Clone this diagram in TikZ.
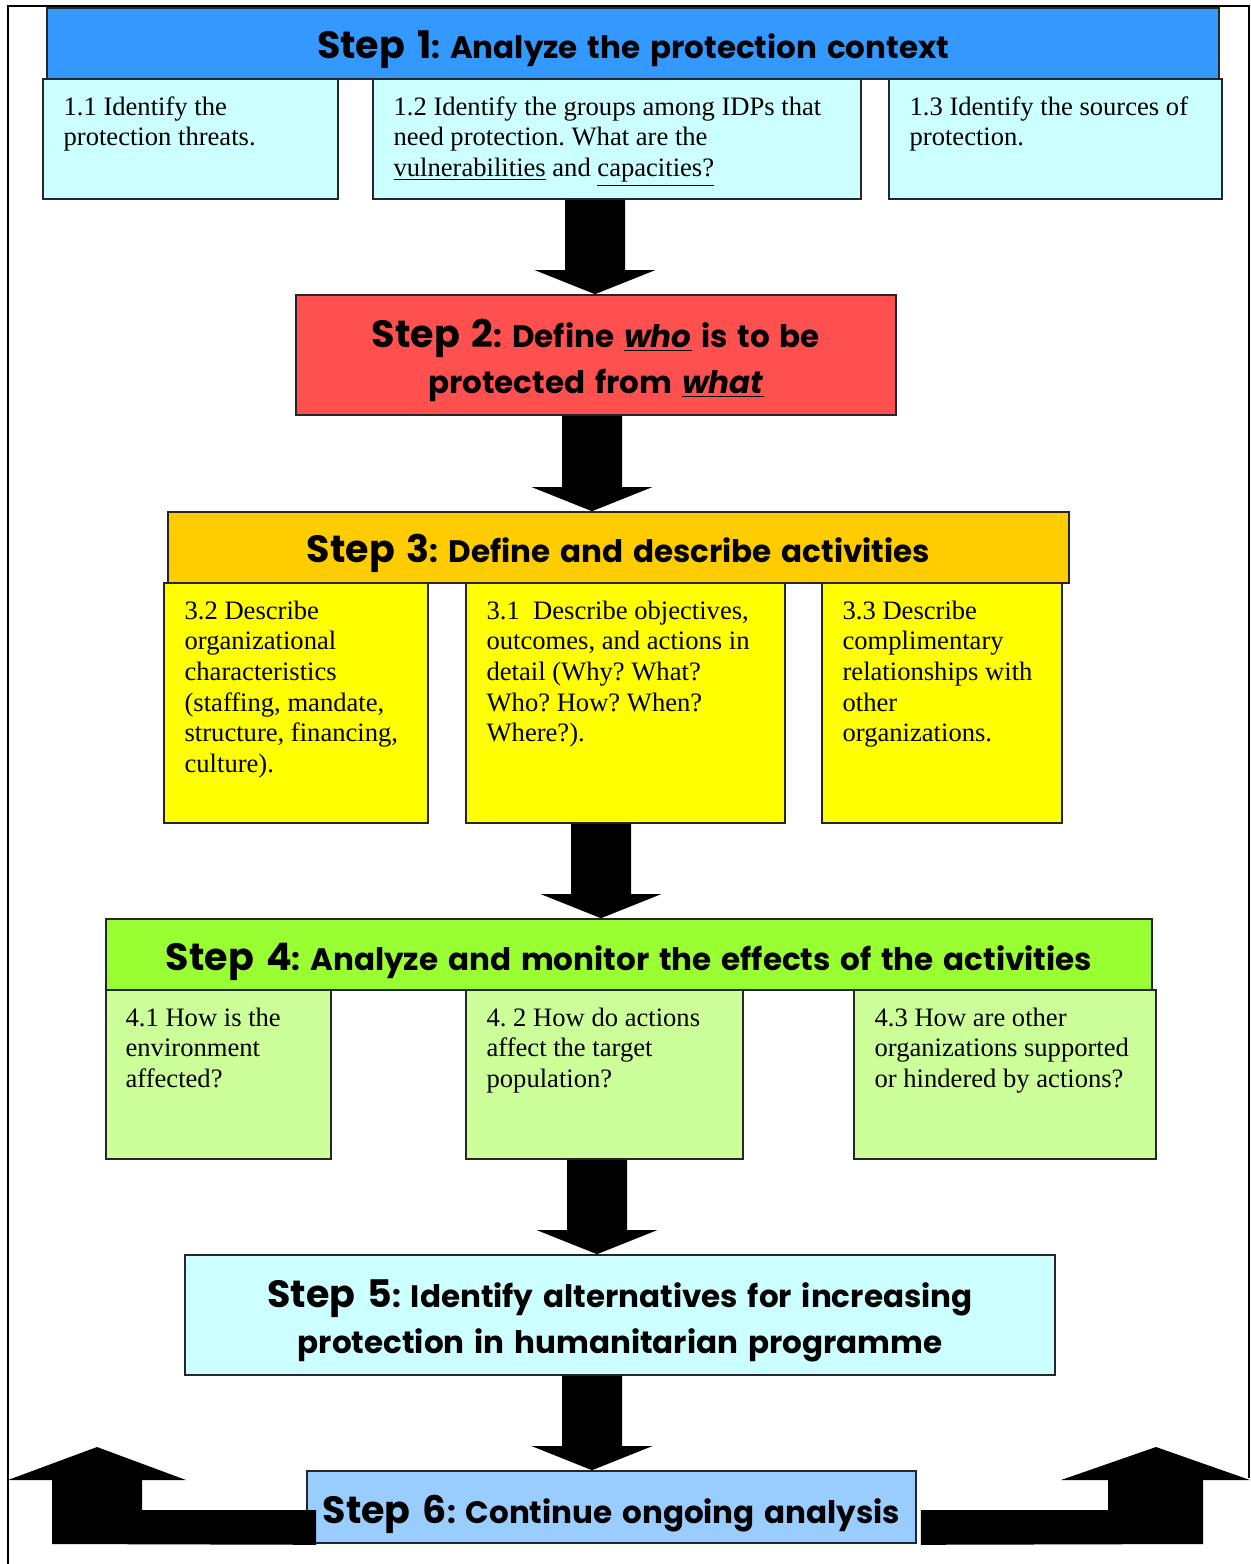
\documentclass[tikz,border=0pt]{standalone}
\usepackage{fontspec}
\setmainfont{Liberation Serif}
\newfontfamily\hdfont{Poppins}[WordSpace={1.5}]
\usetikzlibrary{calc,fit}
\definecolor{cBlue}{HTML}{3399FF}
\definecolor{cCyan}{HTML}{CCFFFF}
\definecolor{cRed}{HTML}{FF5050}
\definecolor{cOrange}{HTML}{FFCC00}
\definecolor{cYellow}{HTML}{FFFF00}
\definecolor{cGreen}{HTML}{99FF33}
\definecolor{cLGreen}{HTML}{CCFF99}
\definecolor{cSky}{HTML}{99CCFF}
\newcommand\stepbig[1]{{\fontsize{19}{23}\selectfont #1}}
\newcommand\vblk[3]{%
  \fill[black] ($(#1 |- #2.south)+(-30,0)$) -- ($(#1 |- #2.south)+(30,0)$)
    -- ($(#1 |- #3.north)+(30,-24)$) -- ($(#1 |- #3.north)+(60,-24)$)
    -- (#1 |- #3.north) -- ($(#1 |- #3.north)+(-60,-24)$)
    -- ($(#1 |- #3.north)+(-30,-24)$) -- cycle;}
\begin{document}
\frenchspacing
\begin{tikzpicture}[x=0.5pt,y=-0.5pt,
  box/.style={draw=black!85, line width=0.8pt, inner sep=0pt},
  body/.style={anchor=north west, inner sep=0pt, align=left, font=\fontsize{13.3}{15.35}\selectfont},
  head/.style={inner sep=0pt, align=center, font=\hdfont\bfseries\fontsize{15.5}{23}\selectfont}]
\useasboundingbox (0,0) rectangle (1251,1564);
% outer frame
\draw[line width=0.8pt] (8,1564) -- (8,6) -- (1249,6) -- (1249,1478);
% Step 1
\node[box, fill=cBlue, fit={(47,8) (1219,79)}] (s1) {};
\node[head] (t1) at ($(s1.center)+(0,6)$) {\stepbig{Step 1}: Analyze the protection context};
\node[box, fill=cCyan, fit={(43,79) (338,199)}] (s11) {};
\node[box, fill=cCyan, fit={(373,79) (861,199)}] (s12) {};
\node[box, fill=cCyan, fit={(889,79) (1222,199)}] (s13) {};
\node[body] (t11) at ($(s11.north west)+(21,15)$) {\strut 1.1 Identify the\\protection threats.};
\node[body] (t12) at ($(s12.north west)+(21,15)$) {\strut 1.2 Identify the groups among IDPs that\\need protection. What are the\\\underline{vulnerabilities} and \underline{capacities?}};
\node[body] (t13) at ($(s13.north west)+(21,15)$) {\strut 1.3 Identify the sources of\\protection.};
% Step 2
\node[box, fill=cRed, fit={(296,295) (896,415)}] (s2) {};
\node[head] (t2) at ($(s2.center)+(0,5)$) {\stepbig{Step 2}: Define \underline{\textit{who}} is to be\\protected from \underline{\textit{what}}};
% Step 3
\node[box, fill=cOrange, fit={(168,512) (1069,583)}] (s3) {};
\node[head] (t3) at ($(s3.center)+(0,6)$) {\stepbig{Step 3}: Define and describe activities};
\node[box, fill=cYellow, fit={(164,583) (428,823)}] (s32) {};
\node[box, fill=cYellow, fit={(466,583) (785,823)}] (s31) {};
\node[box, fill=cYellow, fit={(822,583) (1062,823)}] (s33) {};
\node[body] (t32) at ($(s32.north west)+(21,15)$) {\strut 3.2 Describe\\organizational\\characteristics\\(staffing, mandate,\\structure, financing,\\culture).};
\node[body] (t31) at ($(s31.north west)+(21,15)$) {\strut 3.1\ \ Describe objectives,\\outcomes, and actions in\\detail (Why? What?\\Who? How? When?\\Where?).};
\node[body] (t33) at ($(s33.north west)+(21,15)$) {\strut 3.3 Describe\\complimentary\\relationships with\\other\\organizations.};
% Step 4
\node[box, fill=cGreen, fit={(106,919) (1152,990)}] (s4) {};
\node[head] (t4) at ($(s4.center)+(0,7)$) {\stepbig{Step 4}: Analyze and monitor the effects of the activities};
\node[box, fill=cLGreen, fit={(106,990) (331,1159)}] (s41) {};
\node[box, fill=cLGreen, fit={(466,990) (743,1159)}] (s42) {};
\node[box, fill=cLGreen, fit={(854,990) (1156,1159)}] (s43) {};
\node[body] (t41) at ($(s41.north west)+(20,15)$) {\strut 4.1 How is the\\environment\\affected?};
\node[body] (t42) at ($(s42.north west)+(21,15)$) {\strut 4. 2 How do actions\\affect the target\\population?};
\node[body] (t43) at ($(s43.north west)+(21,15)$) {\strut 4.3 How are other\\organizations supported\\or hindered by actions?};
% Step 5
\node[box, fill=cCyan, fit={(185,1255) (1055,1375)}] (s5) {};
\node[head] (t5) at ($(s5.center)+(0,6)$) {\stepbig{Step 5}: Identify alternatives for increasing\\protection in humanitarian programme};
% Step 6
\node[box, fill=cSky, fit={(307,1471) (916,1543)}] (s6) {};
\node[head] (t6) at ($(s6.center)+(0,7)$) {\stepbig{Step 6}: Continue ongoing analysis};
% down arrows
\coordinate (ax1) at (595,0);
\coordinate (ax2) at (592,0);
\coordinate (ax3) at (601,0);
\coordinate (ax4) at (597,0);
\coordinate (ax5) at (592,0);
\vblk{ax1}{s12}{s2}
\vblk{ax2}{s2}{s3}
\vblk{ax3}{s31}{s4}
\vblk{ax4}{s42}{s5}
\vblk{ax5}{s5}{s6}
% return arrows
\fill[black] (52,1544) -- ($(s6.south west)+(10,1)$) -- ($(s6.west |- 0,1510)+(10,0)$)
  -- (142,1510) -- (142,1480) -- (186,1480) -- (97,1447) -- (8,1480) -- (52,1480) -- cycle;
\fill[black] ($(s6.south east)+(4,1)$) -- (1203,1544) -- (1203,1480) -- (1250,1480)
  -- (1156,1447) -- (1061,1480) -- (1108,1480) -- (1108,1510) -- ($(s6.east |- 0,1510)+(4,0)$) -- cycle;
\end{tikzpicture}
\end{document}
